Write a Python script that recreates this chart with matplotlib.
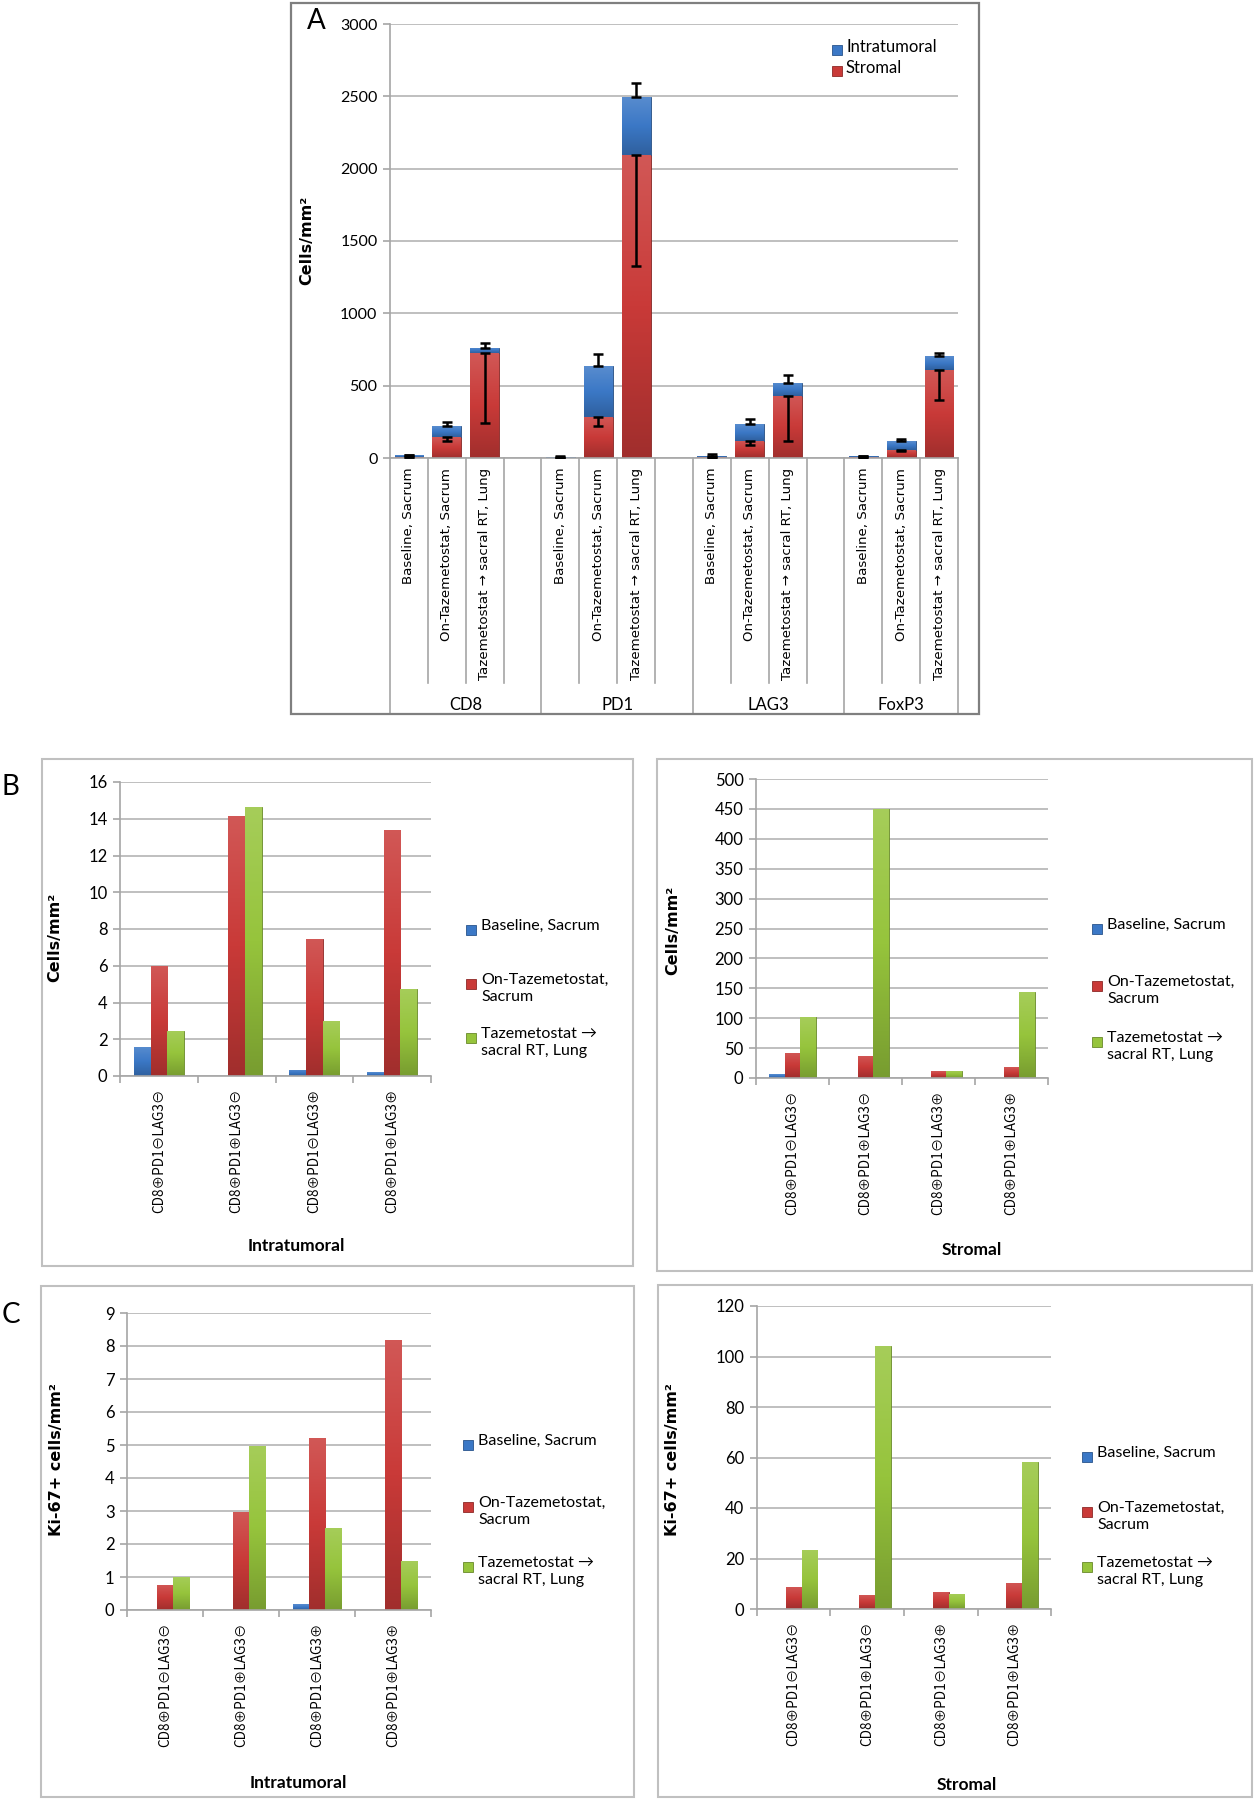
import matplotlib

matplotlib.use("Agg")
import matplotlib.pyplot as plt
import numpy as np
from matplotlib.colors import LinearSegmentedColormap, to_rgb
from matplotlib.patches import Rectangle

plt.rcParams["font.family"] = ["Lato", "DejaVu Sans"]

# ---- data -------------------------------------------------------------
markers = ["CD8", "PD1", "LAG3", "FoxP3"]
timepoints = ["Baseline, Sacrum", "On-Tazemetostat, Sacrum",
              "Tazemetostat \u2192 sacral RT, Lung"]

# panel A, order: marker x timepoint
stromal = [10, 145, 723, 3, 286, 2096, 5, 120, 431, 4, 58, 610]
stromal_err_lo = [4, 25, 481, 2, 63, 768, 3, 30, 316, 2, 12, 209]
intratumoral = [8, 73, 37, 5, 352, 401, 12, 113, 90, 9, 59, 95]
intratumoral_err_hi = [4, 30, 33, 3, 81, 93, 8, 34, 55, 4, 17, 21]

phenotypes = ["CD8\u2295PD1\u2296LAG3\u2296", "CD8\u2295PD1\u2295LAG3\u2296",
              "CD8\u2295PD1\u2296LAG3\u2295", "CD8\u2295PD1\u2295LAG3\u2295"]
series_labels = ["Baseline, Sacrum", "On-Tazemetostat,\nSacrum",
                 "Tazemetostat \u2192\nsacral RT, Lung"]

# panel B: cells/mm2
b_intra_baseline = [1.6, 0, 0.35, 0.2]
b_intra_on = [6.0, 14.15, 7.47, 13.4]
b_intra_lung = [2.47, 14.65, 2.98, 4.73]
b_strom_baseline = [6, 0, 0.8, 0.8]
b_strom_on = [42, 37, 11, 18]
b_strom_lung = [102, 449, 12, 143]

# panel C: Ki-67+ cells/mm2
c_intra_baseline = [0, 0, 0.18, 0]
c_intra_on = [0.76, 2.98, 5.2, 8.19]
c_intra_lung = [1.0, 4.97, 2.49, 1.48]
c_strom_baseline = [0, 0, 0, 0]
c_strom_on = [8.8, 5.4, 6.9, 10.4]
c_strom_lung = [23.5, 104.3, 6.1, 58.1]

BLUE, RED, GREEN = "#3B78C6", "#C93A38", "#96C43C"
GRID = "#BFBFBF"
AXIS = "#A6A6A6"

W, H = 1254, 1800
fig = plt.figure(figsize=(W / 100, H / 100), dpi=100)


def fx(px):
    return px / W


def fy(py):
    return 1 - py / H


def axes_px(left, top, right, bottom):
    return fig.add_axes([fx(left), fy(bottom), (right - left) / W, (bottom - top) / H])


def mix(c, other, t):
    c, o = np.array(to_rgb(c)), np.array(to_rgb(other))
    return tuple(c * (1 - t) + o * t)


def shade(ax, bars, color):
    cmap = LinearSegmentedColormap.from_list(
        "bar", [mix(color, "black", 0.2), color, mix(color, "white", 0.15)])
    grad = np.linspace(0, 1, 64).reshape(-1, 1)
    for b in bars:
        h = b.get_height()
        if h <= 0:
            continue
        x, y, w = b.get_x(), b.get_y(), b.get_width()
        im = ax.imshow(grad, extent=[x, x + w, y, y + h], origin="lower",
                       cmap=cmap, aspect="auto", zorder=2.1, interpolation="bilinear")
        im.set_clip_path(b)


def style_axes(ax):
    for s in ["top", "right"]:
        ax.spines[s].set_visible(False)
    ax.spines["left"].set_color(AXIS)
    ax.spines["bottom"].set_color(AXIS)
    ax.spines["left"].set_linewidth(1.2)
    ax.spines["bottom"].set_linewidth(1.2)
    ax.yaxis.grid(True, color=GRID, linewidth=1.4)
    ax.set_axisbelow(True)
    ax.tick_params(axis="y", direction="out", length=5, width=1.2, color=AXIS, pad=4)


def legend_px(entries, mx, tx, rows, size=12):
    for (label, color), y in zip(entries, rows):
        fig.patches.append(Rectangle((fx(mx - 5), fy(y + 5)), 10 / W, 10 / H,
                                     transform=fig.transFigure, facecolor=color,
                                     edgecolor=mix(color, "black", 0.3), linewidth=0.6))
        fig.text(fx(tx), fy(y - 11), label, fontsize=size, va="top", ha="left",
                 linespacing=1.25)


def frame(left, top, right, bottom, color="#C0C0C0", lw=1.5):
    fig.patches.append(Rectangle((fx(left), fy(bottom)), (right - left) / W,
                                 (bottom - top) / H, transform=fig.transFigure,
                                 fill=False, edgecolor=color, linewidth=lw))


# ---- panel A ------------------------------------------------------------
frame(291, 3, 979, 714, color="#7F7F7F", lw=1.6)
axA = axes_px(390, 24, 958, 458)
style_axes(axA)
xpos = [g * 4 + t for g in range(4) for t in range(3)]
bars_s = axA.bar(xpos, stromal, width=0.76, color=RED,
                 edgecolor=mix(RED, "black", 0.35), linewidth=0.6, zorder=2)
bars_i = axA.bar(xpos, intratumoral, bottom=stromal, width=0.76, color=BLUE,
                 edgecolor=mix(BLUE, "black", 0.35), linewidth=0.6, zorder=2)
shade(axA, bars_s, RED)
shade(axA, bars_i, BLUE)
totals = [s + i for s, i in zip(stromal, intratumoral)]
zeros = [0] * len(xpos)
axA.errorbar(xpos, stromal, yerr=[stromal_err_lo, zeros], fmt="none",
             ecolor="black", elinewidth=1.8, capsize=3.5, capthick=1.8, zorder=5)
axA.errorbar(xpos, totals, yerr=[zeros, intratumoral_err_hi], fmt="none",
             ecolor="black", elinewidth=1.8, capsize=3.5, capthick=1.8, zorder=5)
axA.set_xlim(-0.5, 14.5)
axA.set_ylim(0, 3000)
axA.set_yticks(np.arange(0, 3001, 500))
axA.tick_params(axis="y", labelsize=11.5)
axA.set_xticks(xpos)
axA.set_xticklabels(timepoints * 4, rotation=90, va="top", ha="center",
                    fontsize=9.6, family="DejaVu Sans")
axA.tick_params(axis="x", length=0, pad=7)
short_end = (458 - 683) / 434
long_end = (458 - 714) / 434
for b in np.arange(-0.5, 15, 1.0):
    end = long_end if b in (-0.5, 3.5, 7.5, 11.5, 14.5) else short_end
    axA.plot([b, b], [0, end], transform=axA.get_xaxis_transform(),
             color=AXIS, linewidth=1.2, clip_on=False)
for name, cx in zip(markers, [1.5, 5.5, 9.5, 13.0]):
    axA.text(cx, (458 - 705) / 434, name, transform=axA.get_xaxis_transform(),
             ha="center", va="center", fontsize=12)
fig.text(fx(307), fy(240), "Cells/mm\u00b2", rotation=90, ha="center", va="center",
         fontsize=11.5, fontweight="bold", family="DejaVu Sans")
fig.text(fx(316), fy(21), "A", ha="center", va="center", fontsize=20)
legend_px([("Intratumoral", BLUE), ("Stromal", RED)], 837, 846, [50, 71])


# ---- panels B and C ----------------------------------------------------------
def group_panel(box, rect, series, ylim, step, ylabel, xlabel, xlab_pos,
                ylab_pos, leg_mx, leg_tx, leg_rows):
    frame(*box)
    ax = axes_px(*rect)
    style_axes(ax)
    x = np.arange(len(phenotypes))
    w = 0.214
    for k, (vals, color) in enumerate(zip(series, [BLUE, RED, GREEN])):
        bars = ax.bar(x + (k - 1) * w, vals, width=w, color=color,
                      edgecolor=mix(color, "black", 0.3), linewidth=0.6, zorder=2)
        shade(ax, bars, color)
    ax.set_xlim(-0.5, len(phenotypes) - 0.5)
    ax.set_ylim(0, ylim)
    ax.set_yticks(np.arange(0, ylim + step / 2, step))
    ax.tick_params(axis="y", labelsize=12)
    ax.set_xticks(x)
    ax.set_xticklabels(phenotypes, rotation=90, va="top", ha="center",
                       fontsize=9.8, family=["Noto Sans CJK JP", "DejaVu Sans"])
    ax.set_xticks(np.arange(-0.5, len(phenotypes), 1.0), minor=True)
    ax.tick_params(axis="x", which="major", length=0, pad=9)
    ax.tick_params(axis="x", which="minor", length=5, width=1.2, color=AXIS)
    fig.text(fx(xlab_pos[0]), fy(xlab_pos[1]), xlabel, ha="center", va="center",
             fontsize=12.5, fontweight="bold")
    fig.text(fx(ylab_pos[0]), fy(ylab_pos[1]), ylabel, rotation=90, ha="center",
             va="center", fontsize=11.5, fontweight="bold", family="DejaVu Sans")
    legend_px(list(zip(series_labels, [BLUE, RED, GREEN])), leg_mx, leg_tx, leg_rows,
              size=11.5)
    return ax


group_panel((42, 759, 633, 1266), (120, 782, 431, 1076),
            [b_intra_baseline, b_intra_on, b_intra_lung], 16, 2,
            "Cells/mm\u00b2", "Intratumoral", (296, 1246), (55, 937),
            471, 481, [930, 984, 1038])
group_panel((657, 759, 1252, 1271), (756, 779, 1048, 1078),
            [b_strom_baseline, b_strom_on, b_strom_lung], 500, 50,
            "Cells/mm\u00b2", "Stromal", (972, 1250), (673, 930),
            1097, 1107, [929, 986, 1042])
group_panel((41, 1286, 634, 1797), (127, 1313, 431, 1610),
            [c_intra_baseline, c_intra_on, c_intra_lung], 9, 1,
            "Ki-67+ cells/mm\u00b2", "Intratumoral", (298, 1783), (57, 1460),
            468, 478, [1445, 1507, 1567])
group_panel((658, 1285, 1252, 1797), (757, 1306, 1051, 1609),
            [c_strom_baseline, c_strom_on, c_strom_lung], 120, 20,
            "Ki-67+ cells/mm\u00b2", "Stromal", (967, 1785), (673, 1460),
            1087, 1097, [1457, 1512, 1567])

fig.text(fx(2), fy(787), "B", ha="left", va="center", fontsize=20)
fig.text(fx(2), fy(1315), "C", ha="left", va="center", fontsize=20)

fig.savefig("out.png", dpi=100, facecolor="white")
